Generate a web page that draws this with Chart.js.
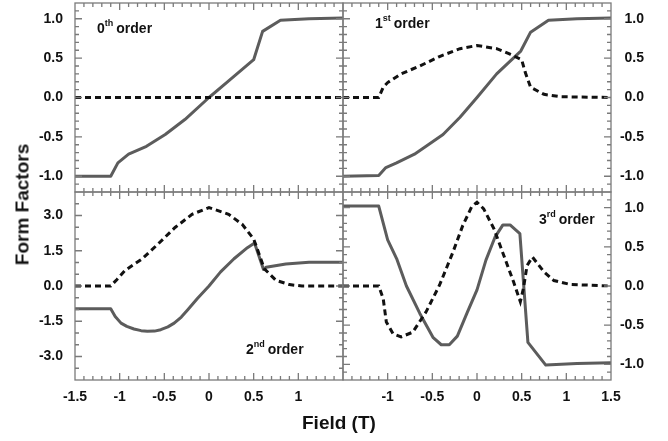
<!DOCTYPE html>
<html><head><meta charset="utf-8">
<script src="https://cdn.jsdelivr.net/npm/chart.js@4.4.1/dist/chart.umd.min.js"></script>
<style>
html,body{margin:0;padding:0;background:#fff;}
#wrap{position:relative;width:668px;height:441px;overflow:hidden;font-family:"Liberation Sans",Arial,Helvetica,sans-serif;background:#fff;}
canvas{position:absolute;}
.ann{position:absolute;font-weight:bold;font-size:14px;line-height:14px;color:#111;white-space:nowrap;}
.ann .sup{font-size:9px;position:relative;top:-7px;margin-right:3px;}
.title{position:absolute;font-weight:bold;font-size:19px;line-height:19px;color:#111;white-space:nowrap;}
</style></head><body>
<div id="wrap">
<canvas id="cTL" width="350" height="200" style="left:0px;top:0px;width:350px;height:200px"></canvas>
<canvas id="cTR" width="332" height="200" style="left:336px;top:0px;width:332px;height:200px"></canvas>
<canvas id="cBL" width="350" height="256" style="left:0px;top:185px;width:350px;height:256px"></canvas>
<canvas id="cBR" width="332" height="256" style="left:336px;top:185px;width:332px;height:256px"></canvas>
<div class="ann" style="left:97px;top:21px">0<span class="sup">th</span>order</div>
<div class="ann" style="left:375px;top:16px">1<span class="sup">st</span>order</div>
<div class="ann" style="left:246px;top:342px">2<span class="sup">nd</span>order</div>
<div class="ann" style="left:539px;top:212px">3<span class="sup">rd</span>order</div>
<div class="title" style="left:-48px;top:195px;width:140px;text-align:center;transform:rotate(-90deg);">Form Factors</div>
<div class="title" style="left:302px;top:413px">Field (T)</div>
</div>
<script>
// ---- tick labels ----
const xLabelsLeft  = ['-1.5','-1','-0.5','0','0.5','1'];
const xLabelsRight = ['-1','-0.5','0','0.5','1','1.5'];
const yLabelsUnit   = ['-1.0','-0.5','0.0','0.5','1.0'];
const yLabelsSecond = ['-3.0','-1.5','0.0','1.5','3.0'];

// ---- 0th order ----
const o0SolidX = [-1.5,-1.1,-1.02,-0.9,-0.7,-0.49,-0.27,0,0.22,0.5,0.6,0.8,1.12,1.5];
const o0SolidY = [-1.0,-1.0,-0.83,-0.72,-0.62,-0.47,-0.28,0,0.21,0.48,0.84,0.98,1.0,1.01];
const o0DashX  = [-1.5,1.5];
const o0DashY  = [0,0];

// ---- 1st order ----
const o1SolidX = [-1.5,-1.1,-1.02,-0.9,-0.7,-0.57,-0.38,-0.19,0,0.22,0.49,0.6,0.8,1.12,1.5];
const o1SolidY = [-1.0,-0.99,-0.89,-0.83,-0.72,-0.62,-0.47,-0.25,0.0,0.30,0.59,0.83,0.98,1.0,1.01];
const o1DashX  = [-1.5,-1.1,-1.05,-1.0,-0.85,-0.64,-0.42,-0.19,0,0.22,0.37,0.5,0.54,0.6,0.75,0.93,1.5];
const o1DashY  = [0,0,0.13,0.19,0.30,0.40,0.52,0.62,0.66,0.62,0.55,0.48,0.32,0.13,0.04,0.01,0];

// ---- 2nd order ----
const o2SolidX = [-1.5,-1.1,-1.05,-0.985,-0.92,-0.84,-0.76,-0.69,-0.61,-0.54,-0.46,-0.39,-0.31,-0.24,-0.13,0,0.13,0.28,0.43,0.51,0.61,0.64,0.86,1.12,1.5];
const o2SolidY = [-0.97,-0.97,-1.3,-1.58,-1.72,-1.83,-1.90,-1.93,-1.92,-1.86,-1.74,-1.58,-1.32,-1.02,-0.53,0.0,0.6,1.16,1.63,1.83,0.70,0.80,0.94,1.01,1.01];
const o2DashX  = [-1.5,-1.1,-1.03,-0.94,-0.75,-0.57,-0.38,-0.19,0,0.22,0.37,0.5,0.62,0.75,0.9,1.04,1.5];
const o2DashY  = [0,0,0.28,0.66,1.15,1.79,2.49,3.05,3.34,3.05,2.63,2.0,0.73,0.24,0.06,0,0];

// ---- 3rd order ----
const o3SolidX = [-1.5,-1.1,-1.0,-0.9,-0.79,-0.64,-0.49,-0.40,-0.31,-0.22,-0.11,0,0.1,0.2,0.29,0.37,0.48,0.57,0.77,1.12,1.5];
const o3SolidY = [1.02,1.02,0.59,0.35,0.0,-0.35,-0.66,-0.75,-0.75,-0.64,-0.34,-0.05,0.33,0.62,0.78,0.78,0.67,-0.72,-1.01,-0.99,-0.98];
const o3DashX  = [-1.5,-1.1,-1.05,-1.015,-0.94,-0.85,-0.72,-0.57,-0.42,-0.27,-0.16,-0.06,0,0.075,0.19,0.30,0.41,0.485,0.52,0.56,0.62,0.75,0.86,1.04,1.5];
const o3DashY  = [0,0,-0.16,-0.46,-0.61,-0.65,-0.59,-0.33,0.01,0.43,0.77,1.01,1.07,0.985,0.73,0.39,0.05,-0.20,-0.03,0.26,0.37,0.18,0.07,0.02,0];

const solidColor = '#5c5c5c';
const dashColor  = '#111111';
const frameColor = '#7a7a7a';
const textColor  = '#111111';
const tickFont = {family:'"Liberation Sans", Arial, sans-serif', size:14, weight:'bold'};

function pts(xs, ys){ return xs.map((x,i)=>({x:x, y:ys[i]})); }

const framePlugin = {
  id:'frame',
  afterDatasetsDraw(chart, args, o){
    const ctx = chart.ctx, a = chart.chartArea;
    const xs = chart.scales.x, ys = chart.scales.y;
    ctx.save();
    ctx.strokeStyle = frameColor;
    ctx.lineWidth = 1.3;
    ctx.strokeRect(a.left, a.top, a.right-a.left, a.bottom-a.top);
    ctx.beginPath();
    const isMajor = (v, m) => Math.abs(v/m - Math.round(v/m)) < 1e-6;
    for (let k = Math.ceil(xs.min/o.xStep - 1e-9); k <= Math.floor(xs.max/o.xStep + 1e-9); k++){
      const v = k*o.xStep, p = xs.getPixelForValue(v);
      if (p < a.left+1 || p > a.right-1) continue;
      const len = isMajor(v, o.xMajor) ? 7 : 4;
      ctx.moveTo(p, a.top); ctx.lineTo(p, a.top+len);
      ctx.moveTo(p, a.bottom); ctx.lineTo(p, a.bottom-len);
    }
    for (let k = Math.ceil(ys.min/o.yStep - 1e-9); k <= Math.floor(ys.max/o.yStep + 1e-9); k++){
      const v = k*o.yStep, p = ys.getPixelForValue(v);
      if (p < a.top+1 || p > a.bottom-1) continue;
      const len = isMajor(v, o.yMajor) ? 7 : 4;
      ctx.moveTo(a.left, p); ctx.lineTo(a.left+len, p);
      ctx.moveTo(a.right, p); ctx.lineTo(a.right-len, p);
    }
    ctx.stroke();
    ctx.restore();
  }
};

function makeChart(id, c){
  return new Chart(document.getElementById(id), {
    type:'line',
    data:{datasets:[
      {data:pts(c.sx,c.sy), borderColor:solidColor, borderWidth:3, pointRadius:0, tension:0, order:2, borderJoinStyle:'round'},
      {data:pts(c.dx,c.dy), borderColor:dashColor, borderWidth:3, borderDash:[6,4], pointRadius:0, tension:0, order:1}
    ]},
    options:{
      responsive:false, animation:false, devicePixelRatio:1,
      layout:{padding:c.padding},
      plugins:{legend:{display:false}, tooltip:{enabled:false},
        frame:{xStep:0.1, xMajor:0.5, yStep:c.yStep, yMajor:c.yMajor}},
      scales:{
        x:{type:'linear', min:-1.5, max:1.5, display:c.xShow,
          grid:{display:false, drawTicks:false}, border:{display:false},
          afterBuildTicks: s => { s.ticks = c.xLabels.map(l => ({value: parseFloat(l)})); },
          ticks:{autoSkip:false, maxRotation:0, padding:9, font:tickFont, color:textColor,
            callback:(v)=>{ const s = String(Math.round(v*10)/10); return c.xLabels.includes(s) ? s : ''; }},
          afterFit: s => { if (c.xShow){ s.height = 40; } s.paddingLeft = 0; s.paddingRight = 0; }
        },
        y:{type:'linear', position:c.yPos, min:c.yMin, max:c.yMax,
          grid:{display:false, drawTicks:false}, border:{display:false},
          afterBuildTicks: s => { s.ticks = c.yLabels.map(l => ({value: parseFloat(l)})); },
          ticks:{autoSkip:false, padding:c.yPos==='right'?8:12, crossAlign:c.yPos==='right'?'far':'near',
            font:tickFont, color:textColor,
            callback:(v)=>{ const s = (Math.round(v*10)/10).toFixed(1); return c.yLabels.includes(s) ? s : ''; }},
          afterFit: s => { s.width = c.yWidth; s.paddingTop = 0; s.paddingBottom = 0; }
        }
      }
    },
    plugins:[framePlugin]
  });
}

makeChart('cTL', {sx:o0SolidX, sy:o0SolidY, dx:o0DashX, dy:o0DashY, padding:{top:3,right:7,bottom:8,left:0},
  xShow:false, xLabels:[], yPos:'left', yMin:-1.2, yMax:1.2, yLabels:yLabelsUnit, yWidth:75, yStep:0.1, yMajor:0.5});
makeChart('cTR', {sx:o1SolidX, sy:o1SolidY, dx:o1DashX, dy:o1DashY, padding:{top:3,right:24,bottom:8,left:7},
  xShow:false, xLabels:[], yPos:'right', yMin:-1.2, yMax:1.2, yLabels:yLabelsUnit, yWidth:33, yStep:0.1, yMajor:0.5});
makeChart('cBL', {sx:o2SolidX, sy:o2SolidY, dx:o2DashX, dy:o2DashY, padding:{top:7,right:7,bottom:21,left:0},
  xShow:true, xLabels:xLabelsLeft, yPos:'left', yMin:-4, yMax:4, yLabels:yLabelsSecond, yWidth:75, yStep:0.5, yMajor:1.5});
makeChart('cBR', {sx:o3SolidX, sy:o3SolidY, dx:o3DashX, dy:o3DashY, padding:{top:7,right:24,bottom:21,left:7},
  xShow:true, xLabels:xLabelsRight, yPos:'right', yMin:-1.2, yMax:1.2, yLabels:yLabelsUnit, yWidth:33, yStep:0.1, yMajor:0.5});
</script>
</body></html>
